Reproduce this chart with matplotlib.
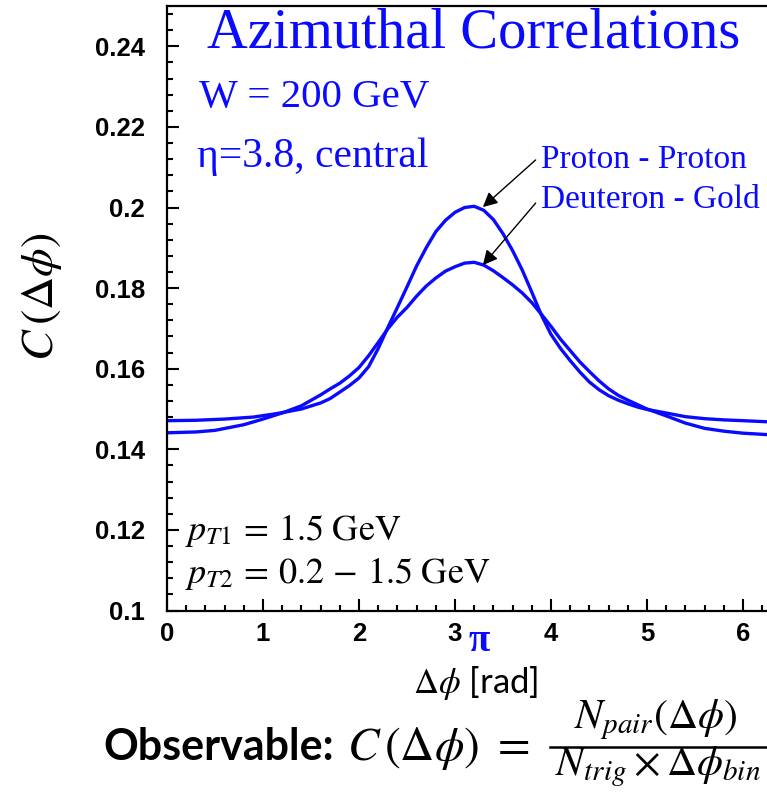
import numpy as np
import matplotlib
matplotlib.use("Agg")
import matplotlib.pyplot as plt
from matplotlib import rcParams as rcp

# values
# Proton - Proton (sharper peak)
pp_x = [0.0, 0.3, 0.6, 0.9, 1.1, 1.2, 1.4, 1.6, 1.7, 1.8, 1.9, 2.0, 2.1, 2.2,
        2.3, 2.4, 2.5, 2.6, 2.7, 2.8, 2.9, 3.0, 3.1, 3.2, 3.3, 3.4, 3.5, 3.6,
        3.7, 3.8, 3.9, 4.0, 4.1, 4.2, 4.3, 4.4, 4.5, 4.6, 4.7, 4.8, 4.9, 5.0,
        5.2, 5.4, 5.6, 5.8, 6.0, 6.2832]
pp_y = [0.1471, 0.1472, 0.1475, 0.1480, 0.1487, 0.1491, 0.1500, 0.1515,
        0.1526, 0.1542, 0.1558, 0.1577, 0.1605, 0.1650, 0.1702, 0.1752,
        0.1803, 0.1855, 0.1900, 0.1940, 0.1968, 0.1988, 0.2000, 0.2003,
        0.1993, 0.1970, 0.1935, 0.1893, 0.1845, 0.1790, 0.1733, 0.1685,
        0.1650, 0.1620, 0.1592, 0.1567, 0.1548, 0.1533, 0.1522, 0.1513,
        0.1505, 0.1499, 0.1490, 0.1481, 0.1476, 0.1473, 0.1471, 0.1468]

# Deuteron - Gold (broader peak)
da_x = [0.0, 0.3, 0.5, 0.8, 1.0, 1.21, 1.4, 1.6, 1.7, 1.8, 1.9, 2.0, 2.1, 2.2,
        2.3, 2.4, 2.5, 2.6, 2.7, 2.8, 2.9, 3.0, 3.1, 3.2, 3.3, 3.4, 3.5, 3.6,
        3.7, 3.8, 3.9, 4.0, 4.1, 4.2, 4.3, 4.4, 4.5, 4.6, 4.7, 4.8, 4.9, 5.0,
        5.2, 5.4, 5.6, 5.8, 6.0, 6.2832]
da_y = [0.1441, 0.1443, 0.1447, 0.1461, 0.1475, 0.1491, 0.1508, 0.1535,
        0.1550, 0.1564, 0.1582, 0.1603, 0.1632, 0.1665, 0.1699, 0.1728,
        0.1752, 0.1780, 0.1805, 0.1825, 0.1842, 0.1853, 0.1862, 0.1864,
        0.1857, 0.1843, 0.1826, 0.1808, 0.1788, 0.1764, 0.1735, 0.1705,
        0.1673, 0.1645, 0.1617, 0.1593, 0.1570, 0.1550, 0.1534, 0.1522,
        0.1511, 0.1500, 0.1483, 0.1465, 0.1452, 0.1445, 0.1440, 0.1436]

x_ticks = [0, 1, 2, 3, 4, 5, 6]
y_ticks = [0.1, 0.12, 0.14, 0.16, 0.18, 0.2, 0.22, 0.24]
y_tick_labels = ["0.1", "0.12", "0.14", "0.16", "0.18", "0.2", "0.22", "0.24"]

# arrows: (tail x, tail y) -> (head x, head y) in data units
pp_arrow = (3.84, 0.2118, 3.29, 0.2001)
da_arrow = (3.84, 0.2011, 3.29, 0.1857)

blue = "#0a0aff"
W, H = 767, 799

rcp["mathtext.fontset"] = "stix"


def fx(px):
    return px / W


def fy(py):
    return 1 - py / H


fig = plt.figure(figsize=(W / 100, H / 100), dpi=100)
fig.set_facecolor("white")
ax = fig.add_axes([fx(167), fy(610.5), (6.2832 * 96) / W, (610.5 - 6) / H])

ax.plot(pp_x, pp_y, color=blue, lw=2.4, solid_joinstyle="round")
ax.plot(da_x, da_y, color=blue, lw=2.4, solid_joinstyle="round")

ax.set_xlim(0, 6.2832)
ax.set_ylim(0.1, 0.25)

ax.set_xticks(x_ticks)
ax.set_xticks(np.arange(0, 6.3, 0.2), minor=True)
ax.set_yticks(y_ticks)
ax.set_yticklabels(y_tick_labels)
ax.set_yticks(np.arange(0.1, 0.2501, 0.004), minor=True)

ax.tick_params(which="both", direction="in", top=False, right=False, width=1.5,
               labelsize=18.5)
ax.tick_params(which="major", length=8.5)
ax.tick_params(which="minor", length=4.5)
ax.tick_params(axis="y", pad=16)
ax.tick_params(axis="x", pad=8)
for lab in ax.get_xticklabels() + ax.get_yticklabels():
    lab.set_fontfamily("Liberation Sans")
    lab.set_fontweight("bold")
for s in ax.spines.values():
    s.set_linewidth(1.6)

# arrows
for tx, ty, hx, hy in [pp_arrow, da_arrow]:
    ax.annotate("", xy=(hx, hy), xytext=(tx, ty),
                arrowprops=dict(arrowstyle="-|>", color="black", lw=1.0,
                                mutation_scale=22, shrinkA=0, shrinkB=0))

# pi marker under the axis
ax.text(np.pi, -0.052, "π", transform=ax.get_xaxis_transform(), ha="left",
        va="center", color=blue, fontsize=28, fontweight="bold",
        family="Liberation Serif")

serif = "Liberation Serif"
fig.text(fx(207), fy(47), "Azimuthal Correlations", color=blue, fontsize=40.8,
         family=serif, ha="left", va="baseline")
fig.text(fx(199), fy(107), "W = 200 GeV", color=blue, fontsize=29.5,
         family=serif, ha="left", va="baseline")
fig.text(fx(197), fy(167), "η=3.8, central", color=blue, fontsize=30,
         family=serif, ha="left", va="baseline")
fig.text(fx(541), fy(168), "Proton - Proton", color=blue, fontsize=24,
         family=serif, ha="left", va="baseline")
fig.text(fx(541), fy(208), "Deuteron - Gold", color=blue, fontsize=24,
         family=serif, ha="left", va="baseline")

fig.text(fx(185), fy(540), r"$p_{T1}\,=\,1.5\ \mathrm{GeV}$", fontsize=26,
         ha="left", va="baseline")
fig.text(fx(185), fy(583), r"$p_{T2}\,=\,0.2\,-\,1.5\ \mathrm{GeV}$",
         fontsize=26, ha="left", va="baseline")

# axis labels
fig.text(fx(41), fy(297), r"$C\,(\Delta\phi)$", fontsize=33, rotation=90,
         ha="center", va="center")
fig.text(fx(413), fy(693), r"$\Delta\phi$ [rad]", fontsize=25, family="Lato",
         ha="left", va="baseline")

# observable formula
fig.text(fx(103), fy(760), "Observable:", fontsize=31, fontweight="bold",
         family="Lato", ha="left", va="baseline")
fig.text(fx(347), fy(760), r"$C\,(\Delta\phi)\ =$", fontsize=34,
         ha="left", va="baseline")
fig.text(fx(656), fy(728), r"$N_{pair}(\Delta\phi)$", fontsize=30,
         ha="center", va="baseline")
fig.text(fx(658), fy(775), r"$N_{trig}\times\Delta\phi_{bin}$", fontsize=30,
         ha="center", va="baseline")
fig.add_artist(plt.Line2D([fx(550), fx(767)], [fy(747), fy(747)],
                          color="black", lw=1.8, transform=fig.transFigure))

fig.savefig("out.png", dpi=100, facecolor="white")
